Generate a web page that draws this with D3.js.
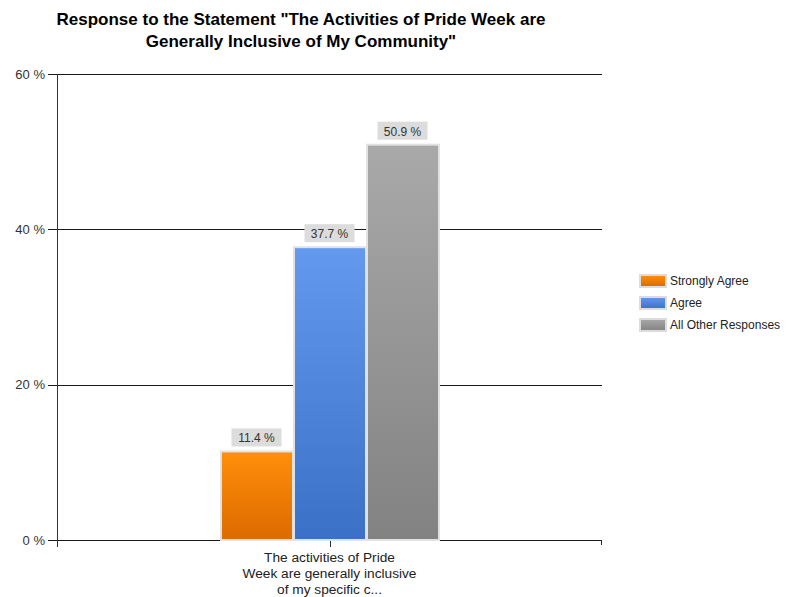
<!DOCTYPE html>
<html><head><meta charset="utf-8">
<script src="https://cdn.jsdelivr.net/npm/d3@7"></script>
<style>body{margin:0;background:#fff;} svg{display:block;font-family:"Liberation Sans",Arial,sans-serif;}</style>
</head><body>
<svg id="c" width="790" height="597"></svg>
<script>
const titleLines = ['Response to the Statement "The Activities of Pride Week are', 'Generally Inclusive of My Community"'];
const categoryLines = ["The activities of Pride", "Week are generally inclusive", "of my specific c..."];
const seriesNames = ["Strongly Agree", "Agree", "All Other Responses"];
const seriesValues = [11.4, 37.7, 50.9];
const yTicks = [0, 20, 40, 60];
const colorsTop = ["#ff8f0a", "#6399ef", "#a9a9a9"];
const colorsBottom = ["#dc6a00", "#3a71c6", "#828282"];

const svg = d3.select("#c");
const L = 57, R = 602, T = 74, B = 540;
const y = d3.scaleLinear().domain([0, 60]).range([B, T]);
const x0 = d3.scaleBand().domain(["c"]).range([L, R]).paddingInner(0).paddingOuter(0.744);
const x1 = d3.scaleBand().domain(seriesNames).range([0, x0.bandwidth()]).padding(0);

const defs = svg.append("defs");
seriesNames.forEach((s, i) => {
  const g = defs.append("linearGradient").attr("id", "g" + i).attr("x1", 0).attr("x2", 0).attr("y1", 0).attr("y2", 1);
  g.append("stop").attr("offset", "0%").attr("stop-color", colorsTop[i]);
  g.append("stop").attr("offset", "100%").attr("stop-color", colorsBottom[i]);
});

// title
svg.append("text").attr("text-anchor", "middle")
  .attr("font-weight", "bold").attr("font-size", 17).attr("fill", "#000")
  .selectAll("tspan").data(titleLines).join("tspan")
  .attr("x", 301).attr("y", (d, i) => 25 + i * 22).text(d => d);

// gridlines
svg.append("g").selectAll("line").data(yTicks).join("line")
  .attr("x1", 48).attr("x2", R).attr("y1", d => Math.round(y(d)) + 0.5).attr("y2", d => Math.round(y(d)) + 0.5)
  .attr("stroke", "#1a1a1a").attr("stroke-width", 1);

// y axis labels
svg.append("g").selectAll("text").data(yTicks).join("text")
  .attr("x", 45).attr("y", d => y(d) + 4.5).attr("text-anchor", "end")
  .attr("font-size", 13).attr("fill", "#333").text(d => d + " %");

// y axis line
svg.append("line").attr("x1", L + 0.5).attr("x2", L + 0.5).attr("y1", T).attr("y2", B + 7).attr("stroke", "#333");
// bottom right tick
svg.append("line").attr("x1", R - 0.5).attr("x2", R - 0.5).attr("y1", B).attr("y2", B + 5).attr("stroke", "#222");
// category tick
const cx = x0("c") + x0.bandwidth() / 2;
svg.append("line").attr("x1", Math.round(cx) + 0.5).attr("x2", Math.round(cx) + 0.5).attr("y1", B).attr("y2", B + 7).attr("stroke", "#333");

// bars
const bars = svg.append("g").attr("transform", `translate(${x0("c")},0)`);
bars.selectAll("rect").data(seriesValues).join("rect")
  .attr("x", (d, i) => x1(seriesNames[i]) + 1)
  .attr("y", d => y(d))
  .attr("width", x1.bandwidth() - 1)
  .attr("height", d => B - y(d))
  .attr("fill", (d, i) => `url(#g${i})`)
  .attr("stroke", "#e2e2e2").attr("stroke-width", 2);

// value labels
const lbl = bars.selectAll("g.lbl").data(seriesValues).join("g").attr("class", "lbl")
  .attr("transform", (d, i) => `translate(${x1(seriesNames[i]) + x1.bandwidth() / 2},${y(d) - 13})`);
lbl.append("rect").attr("x", -25).attr("y", -10).attr("width", 50).attr("height", 18).attr("fill", "#dcdcdc");
lbl.append("text").attr("text-anchor", "middle").attr("y", 4).attr("font-size", 12).attr("fill", "#333")
  .text(d => d.toFixed(1) + " %");

// category label
svg.append("text").attr("font-size", 13.7).attr("fill", "#222").attr("text-anchor", "middle")
  .selectAll("tspan").data(categoryLines).join("tspan")
  .attr("x", cx).attr("y", (d, i) => 562 + i * 16).text(d => d);

// legend
const lg = svg.append("g").attr("transform", "translate(640,275)");
const items = lg.selectAll("g").data(seriesNames).join("g").attr("transform", (d, i) => `translate(0,${i * 22})`);
items.append("rect").attr("x", 0).attr("y", 0).attr("width", 26).attr("height", 12)
  .attr("fill", (d, i) => `url(#g${i})`).attr("stroke", "#dcdcdc").attr("stroke-width", 2);
items.append("text").attr("x", 30).attr("y", 10).attr("font-size", 12).attr("fill", "#222").text(d => d);
</script>
</body></html>
